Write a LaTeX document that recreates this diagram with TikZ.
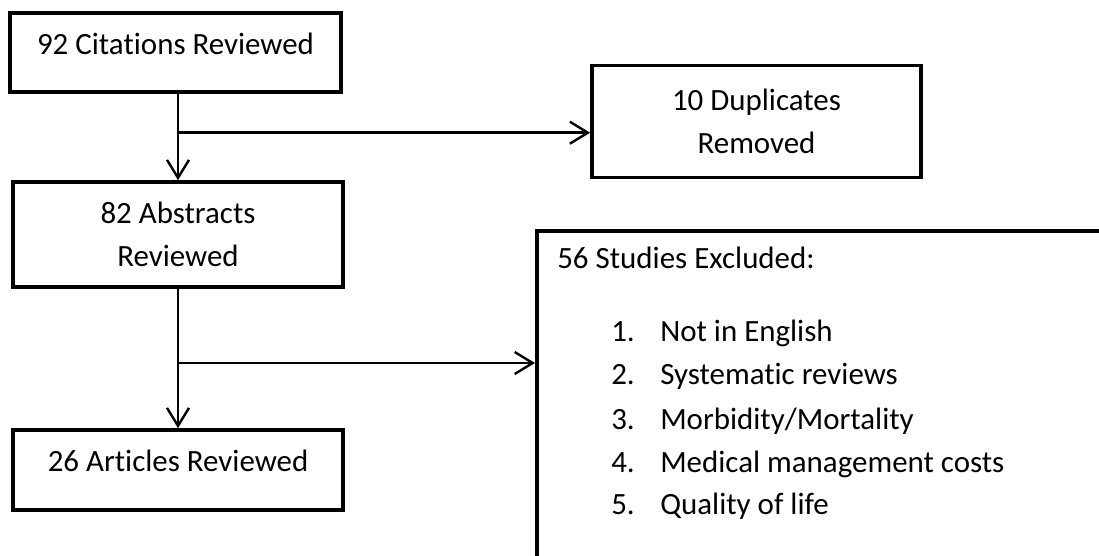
\documentclass[tikz,border=0pt]{standalone}
\usepackage{fontspec}
\setmainfont{Carlito}[Ligatures=NoCommon]
\usetikzlibrary{arrows.meta}

\begin{document}
\begin{tikzpicture}[x=0.025cm, y=-0.025cm,
    stage/.style ={rectangle, draw, line width=0.09cm, align=center,
                   font=\fontsize{22}{30.6}\selectfont, inner sep=0pt},
    oneline/.style ={text depth=0.45cm},
    listtext/.style ={inner sep=0pt, anchor=base west,
                   font=\fontsize{22}{30.6}\selectfont},
    flow/.style ={line width=0.06cm, -{Straight Barb[length=0.45cm, width=0.55cm]}}]
   \clip (0,0) rectangle (1099,556);
   \node[stage, oneline, minimum width=8.275cm, minimum height=1.975cm] (citations) at (175.5,52.5) {92 Citations Reviewed};
   \node[stage, minimum width=8.225cm, minimum height=2.8cm] (duplicates) at (756.5,121.5) {10 Duplicates\\Removed};
   \node[stage, minimum width=8.25cm, minimum height=2.625cm] (abstracts) at (178,234.5) {82 Abstracts\\Reviewed};
   \node[stage, oneline, minimum width=8.25cm, minimum height=2cm] (articles) at (178,470) {26 Articles Reviewed};
   \node[stage, anchor=north west, minimum width=14.875cm, minimum height=8.775cm] (excluded) at (535,229) {};
   \node[listtext] (heading) at (557,269) {56 Studies Excluded:};
   \node[listtext] (item1) at (611,342) {\makebox[1.225cm][l]{1.}Not in English};
   \node[listtext] (item2) at (611,385) {\makebox[1.225cm][l]{2.}Systematic reviews};
   \node[listtext] (item3) at (611,430) {\makebox[1.225cm][l]{3.}Morbidity/Mortality};
   \node[listtext] (item4) at (611,473) {\makebox[1.225cm][l]{4.}Medical management costs};
   \node[listtext] (item5) at (611,515) {\makebox[1.225cm][l]{5.}Quality of life};
   \coordinate (split1) at (178,132.7);
   \coordinate (split2) at (178,363);
   \draw[flow] (abstracts.north |- citations.south) to (abstracts.north);
   \draw[flow] (split1) to (split1 -| duplicates.west);
   \draw[flow] (abstracts.south) to (articles.north);
   \draw[flow] (split2) to (split2 -| excluded.west);
 \end{tikzpicture}
\end{document}
